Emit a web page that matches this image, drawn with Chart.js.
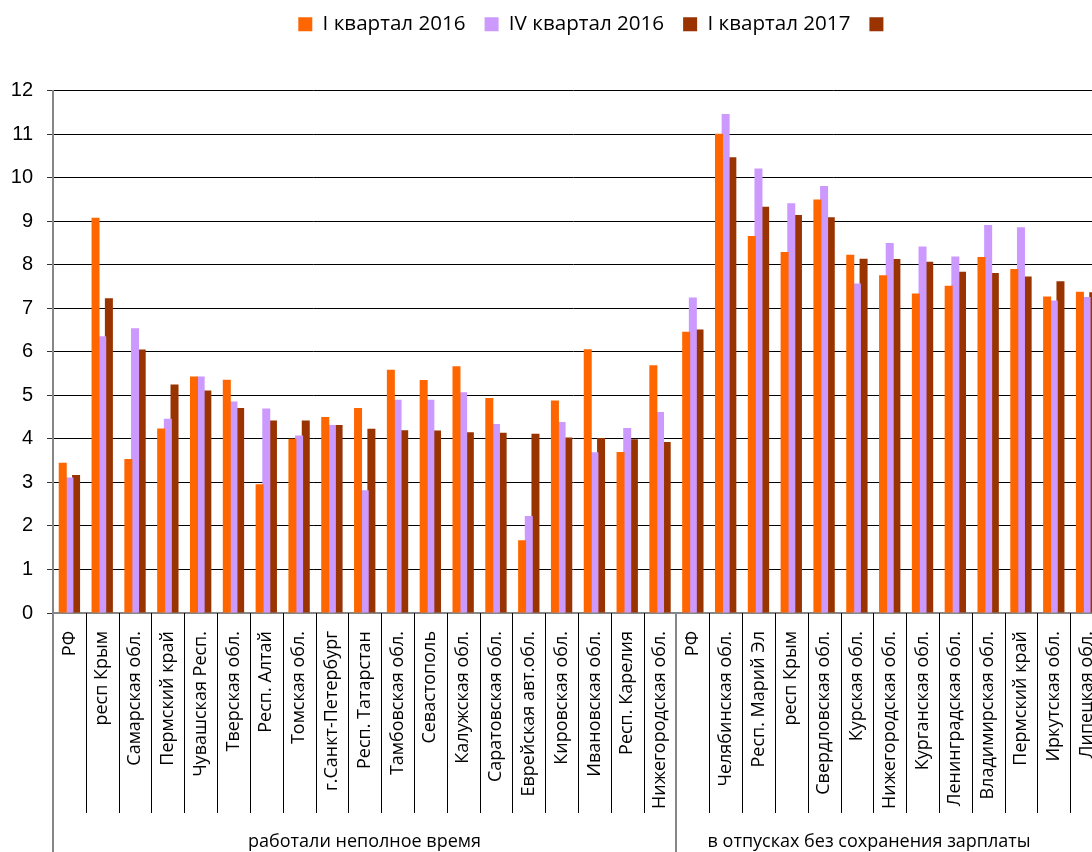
<!DOCTYPE html>
<html>
<head>
<meta charset="utf-8">
<script src="https://cdn.jsdelivr.net/npm/chart.js@4.4.1/dist/chart.umd.min.js"></script>
<style>
  html, body { margin: 0; padding: 0; background: #fff; overflow: hidden; }
</style>
</head>
<body>
<canvas id="chart" width="1092" height="852"></canvas>
<script>
// categories of the first block: worked part time
var labels_part_time = ["РФ", "респ Крым", "Самарская обл.", "Пермский край", "Чувашская Респ.",
  "Тверская обл.", "Респ. Алтай", "Томская обл.", "г.Санкт-Петербург", "Респ. Татарстан",
  "Тамбовская обл.", "Севастополь", "Калужская обл.", "Саратовская обл.", "Еврейская авт.обл.",
  "Кировская обл.", "Ивановская обл.", "Респ. Карелия", "Нижегородская обл."];
// categories of the second block: unpaid leave (the source picture is cut on the right)
var labels_leave = ["РФ", "Челябинская обл.", "Респ. Марий Эл", "респ Крым", "Свердловская обл.",
  "Курская обл.", "Нижегородская обл.", "Курганская обл.", "Ленинградская обл.", "Владимирская обл.",
  "Пермский край", "Иркутская обл.", "Липецкая обл."];

var group_names = ["работали неполное время", "в отпусках без сохранения зарплаты"];
var series_names = ["I квартал 2016", "IV квартал 2016", "I квартал 2017"];

// values, % (part time block, then leave block)
var q1_2016 = [3.45, 9.08, 3.54, 4.24, 5.43, 5.36, 2.96, 4.00, 4.50, 4.71, 5.59, 5.35, 5.67, 4.94, 1.67, 4.88, 6.06, 3.70, 5.69,
  6.46, 11.01, 8.66, 8.29, 9.50, 8.23, 7.76, 7.34, 7.52, 8.18, 7.90, 7.27, 7.38];
var q4_2016 = [3.11, 6.36, 6.54, 4.46, 5.43, 4.86, 4.70, 4.08, 4.32, 2.82, 4.90, 4.90, 5.07, 4.34, 2.23, 4.39, 3.69, 4.25, 4.62,
  7.25, 11.46, 10.21, 9.41, 9.81, 7.57, 8.50, 8.42, 8.19, 8.91, 8.86, 7.18, 7.26];
var q1_2017 = [3.17, 7.23, 6.05, 5.25, 5.11, 4.71, 4.42, 4.42, 4.32, 4.23, 4.20, 4.19, 4.15, 4.14, 4.12, 4.03, 4.02, 3.99, 3.93,
  6.51, 10.47, 9.33, 9.14, 9.09, 8.14, 8.13, 8.07, 7.84, 7.81, 7.73, 7.62, 7.37];

var y_ticks = [0, 1, 2, 3, 4, 5, 6, 7, 8, 9, 10, 11, 12];

var all_labels = labels_part_time.concat(labels_leave);

// plot area keeps going past the canvas edge, the source is a cropped screenshot
var plot_right = 1103;

var crop_plugin = {
  id: "cropRight",
  afterLayout: function(chart) {
    var xs = chart.scales.x;
    xs.right = plot_right;
    xs.width = plot_right - xs.left;
    xs.configure();
    chart.chartArea.right = plot_right;
    chart.chartArea.width = plot_right - chart.chartArea.left;
    // legend sits a bit right of the plot centre and close to the top in the source
    var lg = chart.legend;
    lg.left = xs.left + 18;
    lg.right = plot_right + 18;
    lg.width = plot_right - xs.left;
    lg.top -= 5;
    lg.bottom -= 5;
  }
};

// draws category separators under the axis and the group captions
var group_axis_plugin = {
  id: "groupAxis",
  afterDraw: function(chart) {
    var ctx = chart.ctx;
    var xs = chart.scales.x;
    var area = chart.chartArea;
    var n = all_labels.length;
    var w = (xs.right - xs.left) / n;
    var bottom = chart.height;
    ctx.save();
    // separators between category labels
    ctx.strokeStyle = "#000";
    ctx.lineWidth = 1;
    for (var i = 1; i <= n; i++) {
      if (i == labels_part_time.length) continue;
      var px = Math.round(xs.left + i * w) + 0.5;
      ctx.beginPath();
      ctx.moveTo(px, area.bottom);
      ctx.lineTo(px, area.bottom + 200);
      ctx.stroke();
    }
    // long lines: y axis extension and group divider
    ctx.strokeStyle = "#868686";
    ctx.lineWidth = 2;
    ctx.beginPath();
    ctx.moveTo(xs.left, area.bottom);
    ctx.lineTo(xs.left, bottom);
    var gx = Math.round(xs.left + labels_part_time.length * w);
    ctx.moveTo(gx, area.bottom);
    ctx.lineTo(gx, bottom);
    ctx.stroke();
    // group captions
    ctx.fillStyle = "#000";
    ctx.font = "18px 'Open Sans'";
    ctx.textAlign = "center";
    ctx.textBaseline = "middle";
    ctx.fillText(group_names[0], (xs.left + gx) / 2, bottom - 10);
    var g2_end = xs.left + (n - 1) * w;
    ctx.fillText(group_names[1], (gx + g2_end) / 2 - 4, bottom - 10);
    ctx.restore();
  }
};

function make_chart() {
  var bar_opts = {borderWidth: 0, barPercentage: 1.2, categoryPercentage: 0.61};
  new Chart("chart", {
    type: "bar",
    data: {
      labels: all_labels,
      datasets: [
        Object.assign({label: series_names[0], data: q1_2016, backgroundColor: "#FF6600"}, bar_opts),
        Object.assign({label: series_names[1], data: q4_2016, backgroundColor: "#CC99FF"}, bar_opts),
        Object.assign({label: series_names[2], data: q1_2017, backgroundColor: "#993300"}, bar_opts),
        // empty fourth legend entry, as in the source chart
        {type: "line", label: "", data: [], backgroundColor: "#993300", borderColor: "#993300", borderWidth: 0}
      ]
    },
    options: {
      responsive: false,
      animation: false,
      layout: {padding: 0},
      plugins: {
        legend: {
          position: "top",
          fullSize: false,
          weight: 3000,
          labels: {
            boxWidth: 14,
            boxHeight: 14,
            padding: 19,
            color: "#000",
            font: {family: "'Open Sans'", size: 20.6}
          }
        },
        // empty title only keeps space between the legend and the plot
        title: {
          display: true,
          text: "",
          weight: 2000,
          font: {size: 10, lineHeight: 1},
          padding: {top: 31, bottom: 0}
        },
        tooltip: {enabled: false}
      },
      scales: {
        x: {
          offset: true,
          grid: {display: false, offset: true},
          border: {color: "#868686", width: 2},
          ticks: {
            autoSkip: false,
            minRotation: 90,
            maxRotation: 90,
            padding: 10,
            color: "#000",
            font: {family: "'Open Sans'", size: 18}
          },
          afterFit: function(scale) { scale.height = 239; }
        },
        y: {
          min: 0,
          max: 12,
          afterBuildTicks: function(scale) {
            scale.ticks = y_ticks.map(function(v) { return {value: v}; });
          },
          grid: {
            color: "#000",
            lineWidth: 1,
            borderDash: [2, 2],
            tickLength: 6,
            tickColor: "#333"
          },
          border: {color: "#868686", width: 2},
          ticks: {
            padding: 14,
            color: "#000",
            font: {family: "'Liberation Sans'", size: 20}
          },
          afterFit: function(scale) { scale.width = 53; }
        }
      }
    },
    plugins: [crop_plugin, group_axis_plugin]
  });
}

document.addEventListener("DOMContentLoaded", make_chart);
</script>
</body>
</html>
